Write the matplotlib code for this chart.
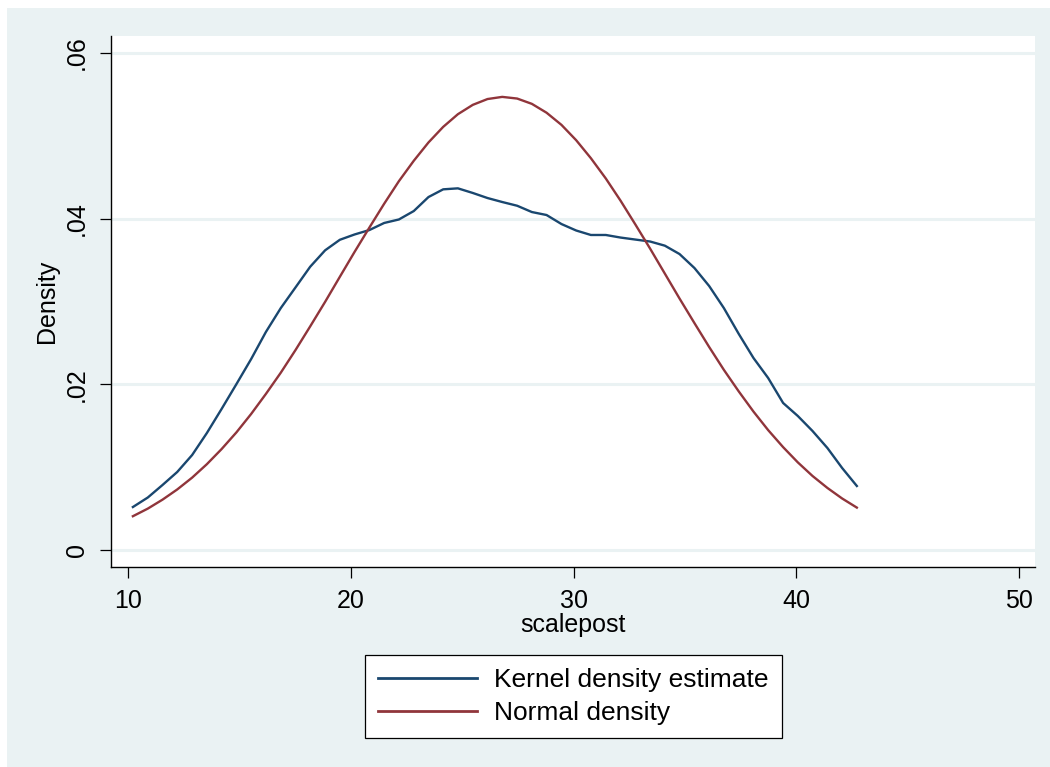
import matplotlib
matplotlib.use("Agg")
import matplotlib.pyplot as plt
from matplotlib.patches import Rectangle

# Evaluation grid for scalepost
grid_x = [10.22, 10.89, 11.55, 12.21, 12.88, 13.54, 14.20, 14.87, 15.53, 16.19,
          16.86, 17.52, 18.18, 18.85, 19.51, 20.17, 20.84, 21.50, 22.16, 22.83,
          23.49, 24.15, 24.81, 25.48, 26.14, 26.80, 27.47, 28.13, 28.79, 29.46,
          30.12, 30.78, 31.45, 32.11, 32.77, 33.44, 34.10, 34.76, 35.43, 36.09,
          36.75, 37.42, 38.08, 38.74, 39.41, 40.07, 40.73, 41.40, 42.06, 42.72]

# Kernel density estimate
kde_y = [0.00519, 0.00634, 0.00785, 0.00942, 0.01147, 0.01412, 0.01702, 0.02004, 0.02306, 0.02632,
         0.02921, 0.03170, 0.03420, 0.03618, 0.03745, 0.03809, 0.03863, 0.03948, 0.03990, 0.04092,
         0.04261, 0.04354, 0.04366, 0.04310, 0.04249, 0.04201, 0.04156, 0.04080, 0.04044, 0.03935,
         0.03857, 0.03803, 0.03803, 0.03772, 0.03748, 0.03724, 0.03674, 0.03573, 0.03404, 0.03187,
         0.02921, 0.02608, 0.02318, 0.02076, 0.01775, 0.01618, 0.01437, 0.01231, 0.00990, 0.00773]

# Normal density
normal_y = [0.00408, 0.00500, 0.00608, 0.00731, 0.00874, 0.01036, 0.01218, 0.01421, 0.01643, 0.01884,
            0.02141, 0.02414, 0.02700, 0.02996, 0.03298, 0.03598, 0.03894, 0.04180, 0.04452, 0.04699,
            0.04920, 0.05108, 0.05261, 0.05374, 0.05444, 0.05470, 0.05450, 0.05386, 0.05279, 0.05132,
            0.04947, 0.04730, 0.04485, 0.04218, 0.03933, 0.03638, 0.03337, 0.03036, 0.02739, 0.02451,
            0.02175, 0.01914, 0.01671, 0.01447, 0.01242, 0.01058, 0.00894, 0.00749, 0.00622, 0.00512]

x_ticks = [10, 20, 30, 40, 50]
x_tick_labels = ["10", "20", "30", "40", "50"]
y_ticks = [0, 0.02, 0.04, 0.06]
y_tick_labels = ["0", ".02", ".04", ".06"]

series_labels = ["Kernel density estimate", "Normal density"]

NAVY = "#1A476F"
MAROON = "#90353B"
BG = "#EAF2F3"

plt.rcParams["font.family"] = ["Liberation Sans", "DejaVu Sans"]

W, H = 1050, 767
fig = plt.figure(figsize=(W / 100, H / 100), dpi=100, facecolor="white")
fig.patches.append(Rectangle((7 / W, 0), 1, (H - 8) / H, transform=fig.transFigure,
                             facecolor=BG, edgecolor="none", zorder=-10))

ax = fig.add_axes([111 / W, 1 - 567 / H, 924 / W, 531 / H])
ax.set_zorder(1)
ax.set_facecolor("white")

ax.set_xlim(9.237, 50.718)
ax.set_ylim(-0.00205, 0.06205)

for yv in y_ticks:
    ax.axhline(yv, color=BG, lw=2.2, zorder=1)

ax.plot(grid_x, kde_y, color=NAVY, lw=1.7, zorder=3, label=series_labels[0])
ax.plot(grid_x, normal_y, color=MAROON, lw=1.7, zorder=3, label=series_labels[1])

for side in ["top", "right"]:
    ax.spines[side].set_visible(False)
for side in ["left", "bottom"]:
    ax.spines[side].set_color("black")
    ax.spines[side].set_linewidth(1.0)

ax.set_xticks(x_ticks)
ax.set_xticklabels(x_tick_labels)
ax.set_yticks(y_ticks)
ax.set_yticklabels(y_tick_labels, rotation=90, va="center")
ax.tick_params(axis="both", direction="out", length=8, width=0.9, colors="black",
               labelsize=18, pad=8)

ax.set_xlabel("scalepost", fontsize=18, labelpad=0)
ax.set_ylabel("Density", fontsize=18, labelpad=4)

leg = fig.legend(loc="center", bbox_to_anchor=(573.5 / W, 1 - 696.5 / H),
                 fontsize=19, frameon=True, fancybox=False, edgecolor="black",
                 facecolor="white", framealpha=1, handlelength=3.75,
                 handletextpad=0.65, borderpad=0.5, labelspacing=0.35,
                 borderaxespad=0)
leg.get_frame().set_linewidth(0.9)
for line in leg.get_lines():
    line.set_linewidth(2.0)

fig.savefig("out.png", dpi=100, facecolor="white")
